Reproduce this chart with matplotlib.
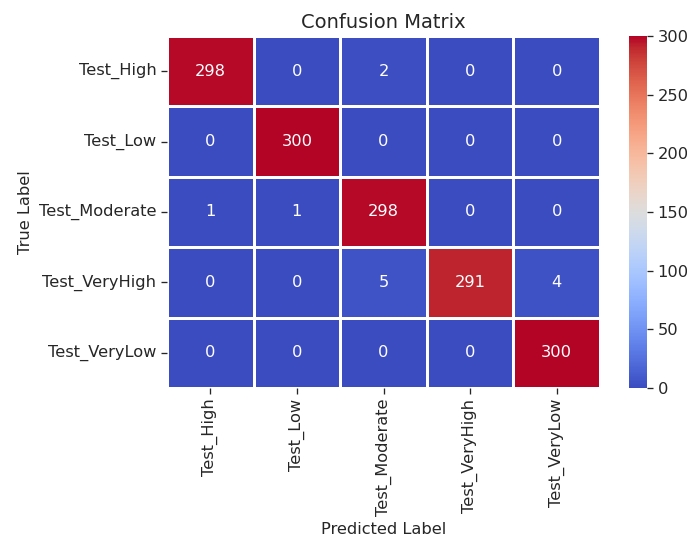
import numpy as np
import matplotlib
matplotlib.use("Agg")
import matplotlib.pyplot as plt
import seaborn as sns

labels = ["Test_High", "Test_Low", "Test_Moderate", "Test_VeryHigh", "Test_VeryLow"]
cm = np.array([
    [298, 0, 2, 0, 0],
    [0, 300, 0, 0, 0],
    [1, 1, 298, 0, 0],
    [0, 0, 5, 291, 4],
    [0, 0, 0, 0, 300],
])

# slightly bigger text and ticks than the defaults
plt.rcParams["font.size"] = 11.7
plt.rcParams["xtick.major.size"] = 4.1
plt.rcParams["ytick.major.size"] = 4.1
plt.rcParams["xtick.major.width"] = 0.95
plt.rcParams["ytick.major.width"] = 0.95
plt.rcParams["text.color"] = "#262626"
plt.rcParams["xtick.color"] = "#262626"
plt.rcParams["ytick.color"] = "#262626"
plt.rcParams["axes.labelcolor"] = "#262626"

fig = plt.figure(figsize=(6.87, 5.43), dpi=100)
ax = fig.add_axes([167 / 687, 1 - 388 / 543, 433 / 687, 352 / 543])
cax = fig.add_axes([629 / 687, 1 - 388 / 543, 18 / 687, 352 / 543])

sns.heatmap(cm, annot=True, fmt="d", cmap="coolwarm", linewidths=2, linecolor="white",
            xticklabels=labels, yticklabels=labels, ax=ax, cbar_ax=cax,
            annot_kws={"fontsize": 11.7})
cax.tick_params(labelsize=11.7)
ax.set_title("Confusion Matrix", fontsize=14)
ax.set_xlabel("Predicted Label", fontsize=11.7)
ax.set_ylabel("True Label", fontsize=11.7)

fig.savefig("out.png", dpi=100)
